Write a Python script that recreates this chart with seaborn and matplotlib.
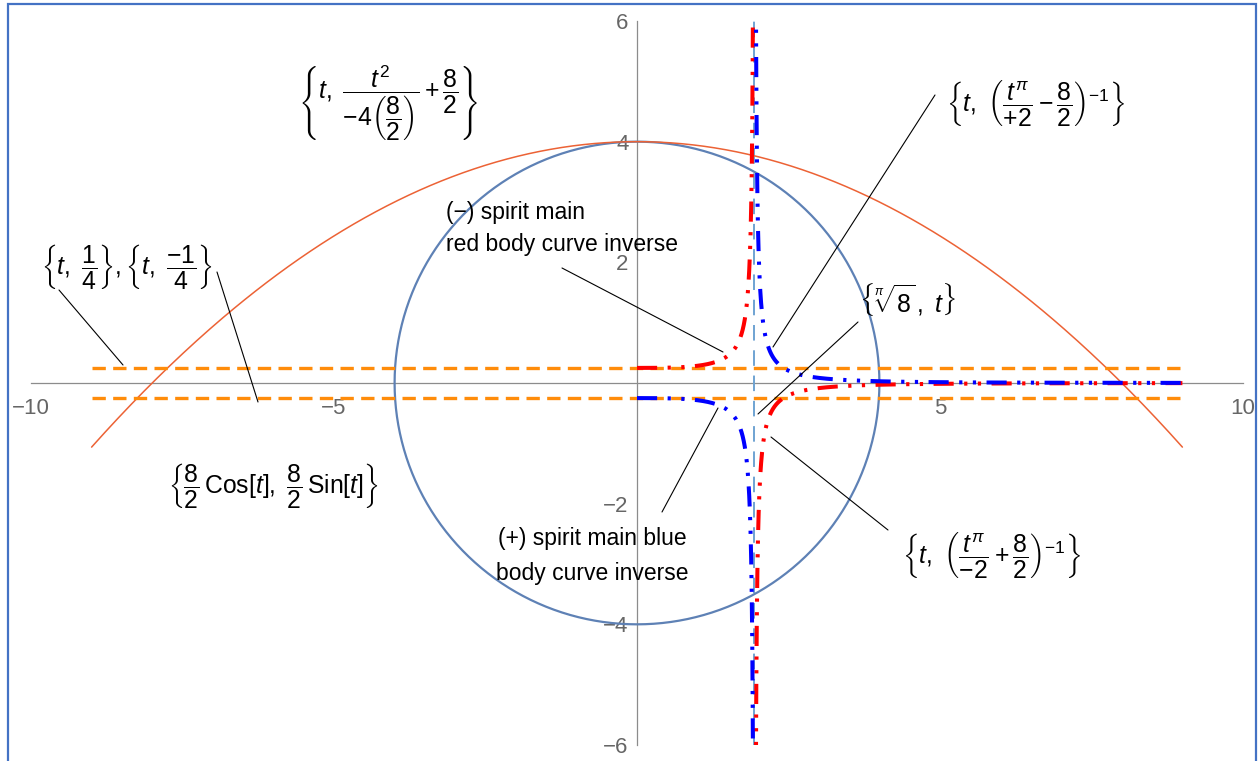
import numpy as np
import pandas as pd
import matplotlib
matplotlib.use("Agg")
import matplotlib.pyplot as plt
import seaborn as sns
from matplotlib.patches import Rectangle

# ---- curve definitions (parameters as written in the labels) ----
half = 8 / 2                      # 8/2
t_par = (-9.0, 9.0)               # parabola / dashed-line parameter range
t_inv = (0.0, 9.0)                # inverse-curve parameter range
levels = [1 / 4, -1 / 4]          # {t, 1/4}, {t, -1/4}
root = 8 ** (1 / np.pi)           # pi-th root of 8
y_span = [-6, 6]

x_ticks_major = [-10, -5, 5, 10]
y_ticks_major = [-6, -4, -2, 2, 4, 6]

sns.set_theme(style="white")
plt.rcParams["font.family"] = ["Liberation Sans", "DejaVu Sans"]
plt.rcParams["mathtext.fontset"] = "custom"
plt.rcParams["mathtext.rm"] = "Liberation Sans"
plt.rcParams["mathtext.it"] = "Liberation Sans:italic"
plt.rcParams["mathtext.bf"] = "Liberation Sans:bold"
plt.rcParams["mathtext.sf"] = "Liberation Sans"
plt.rcParams["text.color"] = "black"

fig = plt.figure(figsize=(12.59, 7.61), dpi=100)
ax = fig.add_axes([31 / 1259, 1 - 745 / 761, 1212 / 1259, 724 / 761])
ax.set_xlim(-10, 10)
ax.set_ylim(-6, 6)

# circle {8/2 Cos[t], 8/2 Sin[t]}
th = np.linspace(0, 2 * np.pi, 721)
circ = pd.DataFrame({"x": half * np.cos(th), "y": half * np.sin(th)})
sns.lineplot(data=circ, x="x", y="y", sort=False, estimator=None,
             color="#5E81B5", lw=1.6, ax=ax)

# parabola {t, t^2/(-4(8/2)) + 8/2}
tp = np.linspace(*t_par, 500)
para = pd.DataFrame({"x": tp, "y": tp ** 2 / (-4 * half) + half})
sns.lineplot(data=para, x="x", y="y", sort=False, estimator=None,
             color="#EC6235", lw=1.1, ax=ax)

# horizontal dashed lines at +-1/4
for lv in levels:
    hl = pd.DataFrame({"x": list(t_par), "y": [lv, lv]})
    sns.lineplot(data=hl, x="x", y="y", sort=False, estimator=None,
                 color="#FF8C0A", lw=2.4, linestyle=(0, (4, 2.2)), ax=ax)

# inverse curves, split at the asymptote t = root
dashdotdot = (0, (5, 2.6, 0.8, 2.6, 0.8, 2.6))
eps = 1e-4
branches = [np.linspace(t_inv[0], root - eps, 4000),
            np.linspace(root + eps, t_inv[1], 4000)]


def blue_f(t):
    return 1 / (t ** np.pi / 2 - half)


def red_f(t):
    return 1 / (t ** np.pi / -2 + half)


for f, col in [(red_f, "#FF0000"), (blue_f, "#0000FF")]:
    for tb in branches:
        yv = np.clip(f(tb), -8, 8)
        seg = pd.DataFrame({"x": tb, "y": yv})
        sns.lineplot(data=seg, x="x", y="y", sort=False, estimator=None,
                     color=col, lw=2.9, linestyle=dashdotdot,
                     dash_capstyle="butt", ax=ax)

# vertical dashed line {8^(1/pi), t}
vl = pd.DataFrame({"x": [root, root], "y": y_span})
sns.lineplot(data=vl, x="x", y="y", sort=False, estimator=None,
             color="#6FA3D2", lw=1.4, linestyle=(0, (8, 5)), ax=ax, zorder=1)

# ---- axes through the origin ----
for s in ["top", "right"]:
    ax.spines[s].set_visible(False)
ax.spines["left"].set_position(("data", 0))
ax.spines["bottom"].set_position(("data", 0))
for s in ["left", "bottom"]:
    ax.spines[s].set_color("#8C8C8C")
    ax.spines[s].set_linewidth(0.9)
    ax.spines[s].set_zorder(0)
ax.set_xticks(x_ticks_major)
ax.set_yticks(y_ticks_major)
ax.set_xticks(np.arange(-10, 11, 1), minor=True)
ax.set_yticks(np.arange(-6, 6.5, 0.5), minor=True)
ax.tick_params(which="both", direction="in", colors="#8C8C8C",
               labelcolor="#666666", labelsize=16, width=0.8)
ax.tick_params(which="major", length=5)
ax.tick_params(which="minor", length=3)
ax.tick_params(axis="x", pad=11)
ax.tick_params(axis="y", pad=6)
ax.set_xlabel("")
ax.set_ylabel("")
ax.grid(False)


# ---- labels and leader lines ----
def px(x, y):
    return ((x - 637) / 60.6, (383 - y) / 60.33)


fs = 16.5
mfs = 17.8
labels_math = [
    ((388, 103), r"$\left\{t,\ \dfrac{t^2}{-4\left(\dfrac{8}{2}\right)}+\dfrac{8}{2}\right\}$"),
    ((1035, 103), r"$\left\{t,\ \left(\dfrac{t^{\pi}}{+2}-\dfrac{8}{2}\right)^{-1}\right\}$"),
    ((991, 555), r"$\left\{t,\ \left(\dfrac{t^{\pi}}{-2}+\dfrac{8}{2}\right)^{-1}\right\}$"),
    ((127, 267), r"$\left\{t,\ \dfrac{1}{4}\right\},\left\{t,\ \dfrac{-1}{4}\right\}$"),
    ((908, 300), r"$\left\{\sqrt[\pi]{8}\,,\ t\right\}$"),
    ((273, 485), r"$\left\{\dfrac{8}{2}\,\mathrm{Cos}[t],\ \dfrac{8}{2}\,\mathrm{Sin}[t]\right\}$"),
]
for (xp, yp), s in labels_math:
    ax.text(*px(xp, yp), s, fontsize=mfs, ha="center", va="center",
            color="black")

ax.text(*px(446, 213), "(\u2212) spirit main", fontsize=fs, ha="left",
        va="center", color="black")
ax.text(*px(446, 245), "red body curve inverse", fontsize=fs, ha="left",
        va="center", color="black")
ax.text(*px(592, 538), "(+) spirit main blue", fontsize=fs, ha="center",
        va="center", color="black")
ax.text(*px(592, 573), "body curve inverse", fontsize=fs, ha="center",
        va="center", color="black")

leaders = [((59, 290), (123, 365)),
           ((217, 272), (258, 402)),
           ((562, 268), (723, 352)),
           ((935, 95), (773, 347)),
           ((858, 322), (758, 414)),
           ((662, 512), (718, 408)),
           ((888, 530), (771, 437))]
for a, b in leaders:
    (x1, y1), (x2, y2) = px(*a), px(*b)
    ax.plot([x1, x2], [y1, y2], color="black", lw=0.8, zorder=5,
            clip_on=False)

# outer frame
fig.patches.append(Rectangle((8 / 1259, -0.01), 1248 / 1259, 1 - 4 / 761 + 0.01,
                             transform=fig.transFigure, fill=False,
                             edgecolor="#4472C4", lw=1.6))

fig.savefig("out.png", dpi=100)
